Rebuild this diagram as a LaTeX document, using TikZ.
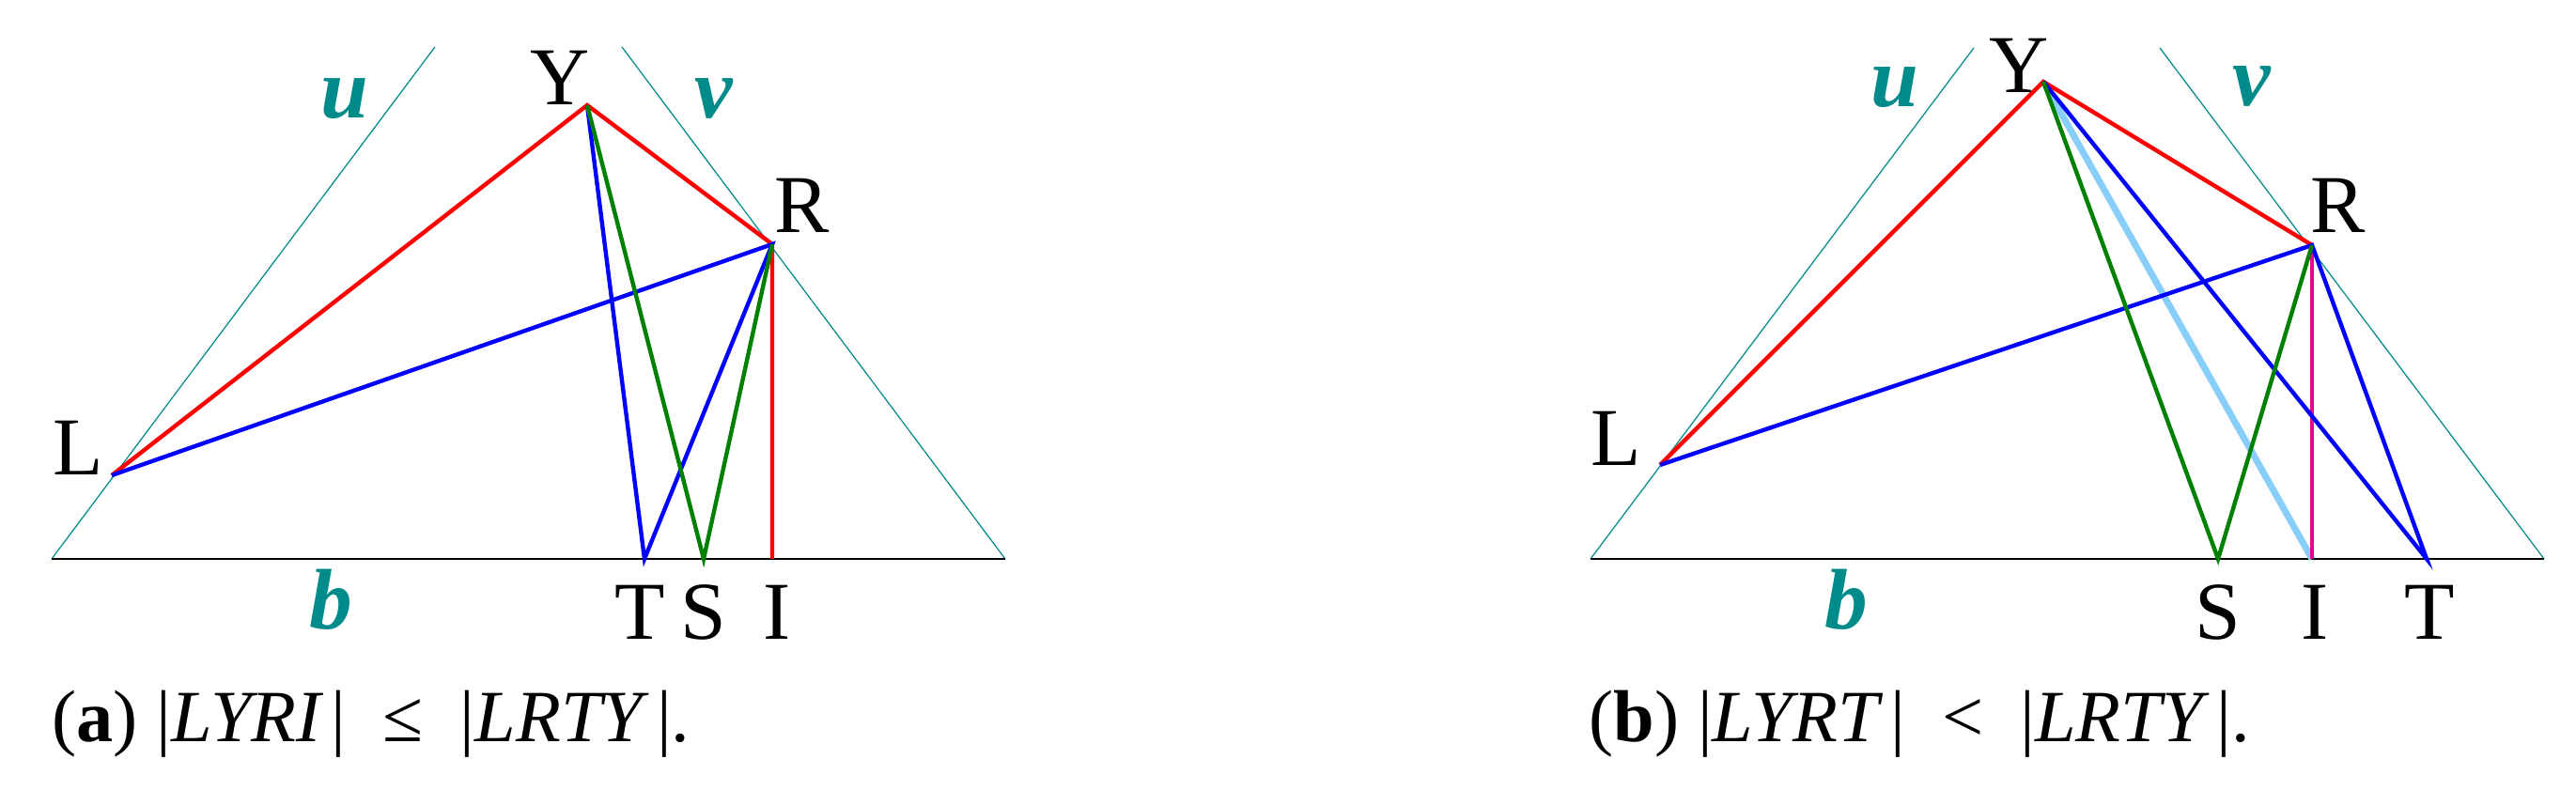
\documentclass[tikz,border=0pt]{standalone}
\usepackage{fontspec}
\setmainfont{Liberation Serif}
\definecolor{axteal}{RGB}{0,139,139}
\definecolor{skyline}{RGB}{135,206,250}
\definecolor{darkgreen}{RGB}{0,128,0}

\begin{document}
\begin{tikzpicture}[
    edge/.style={line width=1.25pt},
    side/.style={axteal,line width=0.35pt},
    pt/.style={font=\fontsize{24.9}{30}\selectfont,inner sep=0pt,anchor=base},
    axlab/.style={axteal,font=\fontsize{26}{30}\selectfont\bfseries\itshape,inner sep=0pt,anchor=base},
    capt/.style={font=\fontsize{22.3}{26}\selectfont,inner sep=0pt,anchor=base west}
]
    \useasboundingbox (0,0) rectangle (27.42,8.41);

    % (a)
    \coordinate (aBl) at (0.55,2.46);
    \coordinate (aBr) at (10.70,2.46);
    \coordinate (aUt) at (4.63,7.91);
    \coordinate (aVt) at (6.62,7.91);
    \coordinate (aY) at (6.25,7.29);
    \coordinate (aR) at (8.22,5.81);
    \coordinate (aL) at (1.19,3.35);
    \coordinate (aT) at (6.86,2.46);
    \coordinate (aS) at (7.49,2.46);
    \coordinate (aI) at (8.22,2.46);

    \draw[side] (aBl) -- (aUt);
    \draw[side] (aBr) -- (aVt);
    \draw[line width=0.35pt] (aBl) -- (aBr);
    \draw[edge,red] (aL) -- (aY) -- (aR) -- (aI);
    \draw[edge,blue] (aL) -- (aR) -- (aT) -- (aY);
    \draw[edge,darkgreen] (aY) -- (aS) -- (aR);

    \node[pt] (aYl) at (5.96,7.29) {Y};
    \node[pt] (aRl) at (8.54,5.93) {R};
    \node[pt] (aLl) at (0.83,3.35) {L};
    \node[pt] (aTl) at (6.81,1.60) {T};
    \node[pt] (aSl) at (7.49,1.60) {S};
    \node[pt] (aIl) at (8.27,1.60) {I};
    \node[axlab] (au) at (3.67,7.15) {u};
    \node[axlab] (av) at (7.60,7.15) {v};
    \node[axlab] (ab) at (3.52,1.71) {b};
    \node[capt] (acap) at (0.55,0.51) {(\textbf{a}) |\textit{LYRI}\hspace{0.1em}|\hspace{0.5em}≤\hspace{0.5em}|\textit{LRTY}\hspace{0.1em}|.};

    % (b)
    \coordinate (bBl) at (16.93,2.46);
    \coordinate (bBr) at (27.08,2.46);
    \coordinate (bUt) at (21.01,7.90);
    \coordinate (bVt) at (22.99,7.90);
    \coordinate (bY) at (21.75,7.54);
    \coordinate (bR) at (24.61,5.80);
    \coordinate (bL) at (17.67,3.46);
    \coordinate (bS) at (23.61,2.46);
    \coordinate (bI) at (24.61,2.46);
    \coordinate (bT) at (25.83,2.46);

    \draw[side] (bBl) -- (bUt);
    \draw[side] (bBr) -- (bVt);
    \draw[line width=0.35pt] (bBl) -- (bBr);
    \draw[line width=2pt,skyline] (bY) -- (bI);
    \draw[line width=0.9pt,magenta] (bR) -- (bI);
    \draw[edge,red] (bL) -- (bY) -- (bR);
    \draw[edge,blue] (bL) -- (bR) -- (bT) -- (bY);
    \draw[edge,darkgreen] (bY) -- (bS) -- (bR);

    \node[pt] (bYl) at (21.49,7.42) {Y};
    \node[pt] (bRl) at (24.89,5.93) {R};
    \node[pt] (bLl) at (17.20,3.45) {L};
    \node[pt] (bSl) at (23.61,1.60) {S};
    \node[pt] (bIl) at (24.64,1.60) {I};
    \node[pt] (bTl) at (25.86,1.60) {T};
    \node[axlab] (bu) at (20.17,7.27) {u};
    \node[axlab] (bv) at (23.97,7.28) {v};
    \node[axlab] (bb) at (19.65,1.71) {b};
    \node[capt] (bcap) at (16.91,0.51) {(\textbf{b}) |\textit{LYRT}\hspace{0.1em}|\hspace{0.5em}<\hspace{0.5em}|\textit{LRTY}\hspace{0.1em}|.};
\end{tikzpicture}
\end{document}
